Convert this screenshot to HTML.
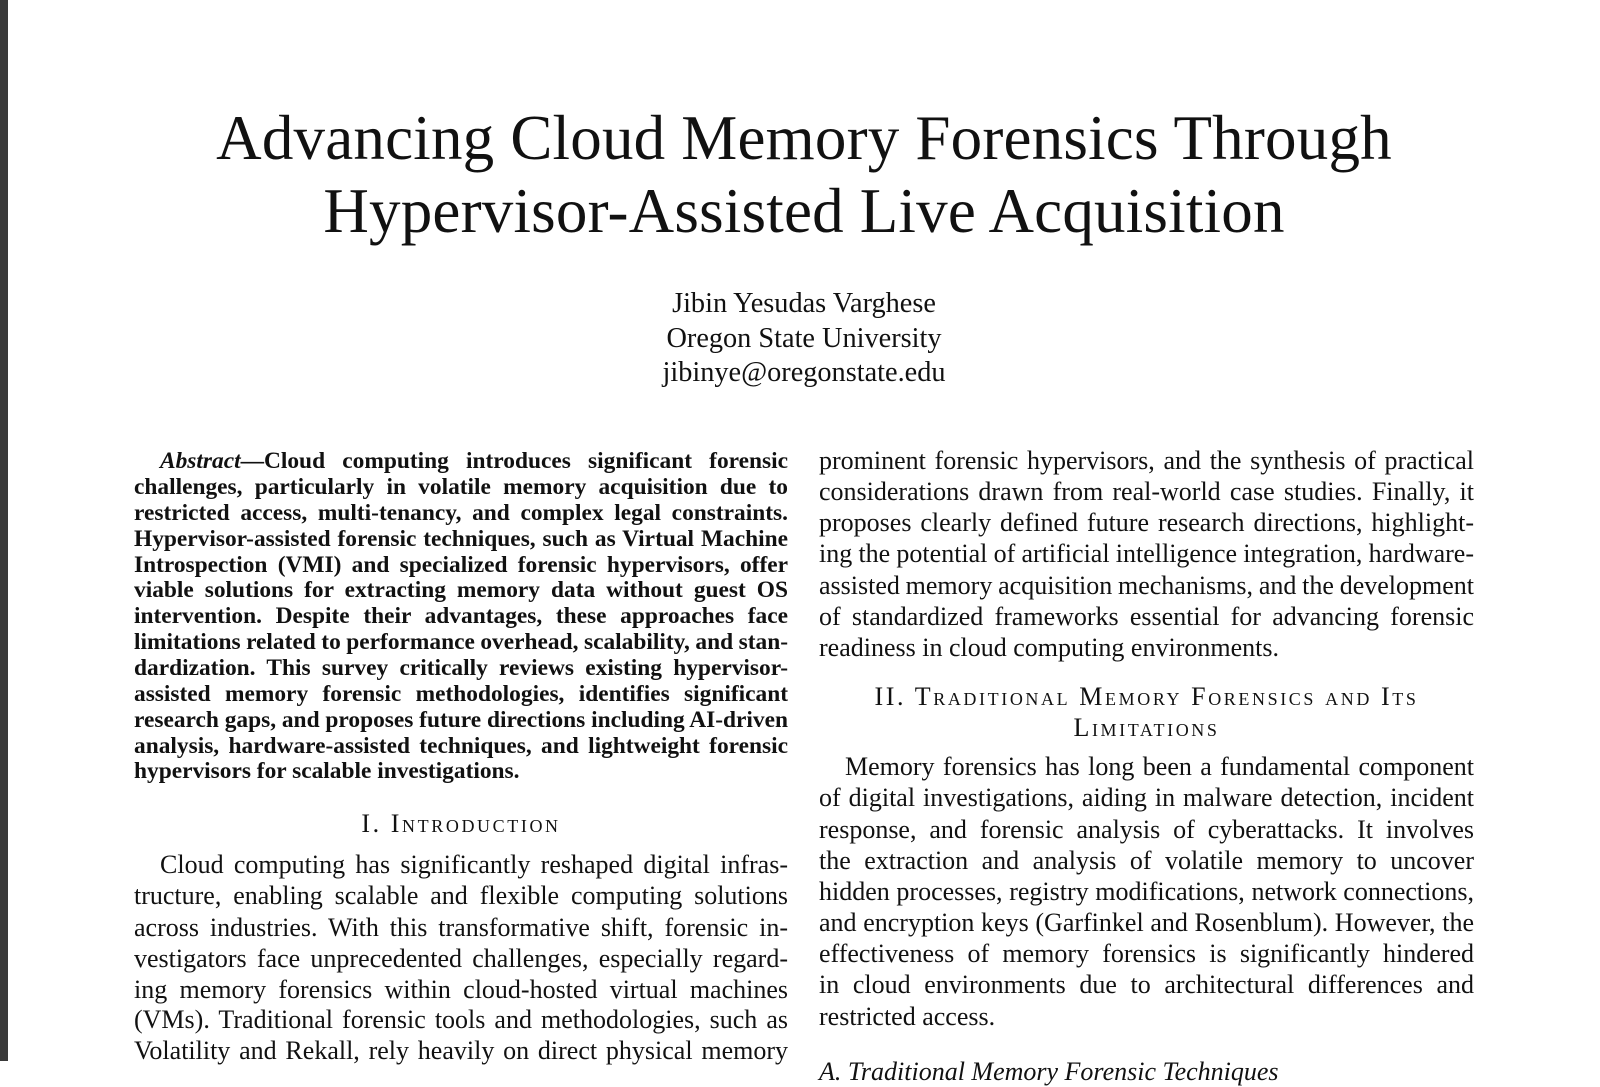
<!DOCTYPE html>
<html><head><meta charset="utf-8"><style>
html,body{margin:0;padding:0}
body{width:1600px;height:1061px;background:#fff;position:relative;overflow:hidden;font-family:"Liberation Serif","Times New Roman",serif;color:#111}
.bar{position:absolute;left:0;top:0;width:8px;height:1061px;background:#3a3a3a}
.c{position:absolute;left:0;width:1600px;text-align:center;white-space:nowrap}
.t{font-size:63px;line-height:70px;left:4px;letter-spacing:0.2px}
.a{font-size:28.3px;line-height:34px;left:4px}
.l{position:absolute;text-align:justify;text-align-last:justify;word-spacing:-4px;height:31px;line-height:31px;font-size:26px}
.L{left:134px;width:654px}
.R{left:819px;width:655px}
.ab{font-size:23.4px;font-weight:bold;height:26px;line-height:26px}
.end{text-align-last:left;word-spacing:0}
.h{position:absolute;font-size:26px;line-height:31px;text-align:center;font-variant:small-caps;white-space:nowrap;letter-spacing:2.6px}
</style></head><body>
<div class="bar"></div>
<div class="c t" style="top:103px">Advancing Cloud Memory Forensics Through</div>
<div class="c t" style="top:176px">Hypervisor-Assisted Live Acquisition</div>
<div class="c a" style="top:287px">Jibin Yesudas Varghese</div>
<div class="c a" style="top:322px">Oregon State University</div>
<div class="c a" style="top:356px">jibinye@oregonstate.edu</div>

<div class="l L ab" style="top:448px;left:160px;width:628px"><i>Abstract</i>—Cloud computing introduces significant forensic</div>
<div class="l L ab" style="top:474px">challenges, particularly in volatile memory acquisition due to</div>
<div class="l L ab" style="top:500px">restricted access, multi-tenancy, and complex legal constraints.</div>
<div class="l L ab" style="top:526px">Hypervisor-assisted forensic techniques, such as Virtual Machine</div>
<div class="l L ab" style="top:552px">Introspection (VMI) and specialized forensic hypervisors, offer</div>
<div class="l L ab" style="top:577px">viable solutions for extracting memory data without guest OS</div>
<div class="l L ab" style="top:603px">intervention. Despite their advantages, these approaches face</div>
<div class="l L ab" style="top:629px">limitations related to performance overhead, scalability, and stan-</div>
<div class="l L ab" style="top:655px">dardization. This survey critically reviews existing hypervisor-</div>
<div class="l L ab" style="top:681px">assisted memory forensic methodologies, identifies significant</div>
<div class="l L ab" style="top:707px">research gaps, and proposes future directions including AI-driven</div>
<div class="l L ab" style="top:733px">analysis, hardware-assisted techniques, and lightweight forensic</div>
<div class="l L ab end" style="top:758px">hypervisors for scalable investigations.</div>

<div class="h" style="left:134px;width:654px;top:808px">I. Introduction</div>
<div class="l L" style="top:849px;left:160px;width:628px">Cloud computing has significantly reshaped digital infras-</div>
<div class="l L" style="top:880px">tructure, enabling scalable and flexible computing solutions</div>
<div class="l L" style="top:912px">across industries. With this transformative shift, forensic in-</div>
<div class="l L" style="top:943px">vestigators face unprecedented challenges, especially regard-</div>
<div class="l L" style="top:974px">ing memory forensics within cloud-hosted virtual machines</div>
<div class="l L" style="top:1004px">(VMs). Traditional forensic tools and methodologies, such as</div>
<div class="l L" style="top:1035px">Volatility and Rekall, rely heavily on direct physical memory</div>

<div class="l R" style="top:445px">prominent forensic hypervisors, and the synthesis of practical</div>
<div class="l R" style="top:476px">considerations drawn from real-world case studies. Finally, it</div>
<div class="l R" style="top:507px">proposes clearly defined future research directions, highlight-</div>
<div class="l R" style="top:538px">ing the potential of artificial intelligence integration, hardware-</div>
<div class="l R" style="top:570px">assisted memory acquisition mechanisms, and the development</div>
<div class="l R" style="top:601px">of standardized frameworks essential for advancing forensic</div>
<div class="l R end" style="top:632px">readiness in cloud computing environments.</div>

<div class="h" style="left:819px;width:655px;top:681px">II. Traditional Memory Forensics and Its</div>
<div class="h" style="left:819px;width:655px;top:712px">Limitations</div>
<div class="l R" style="top:751px;left:845px;width:629px">Memory forensics has long been a fundamental component</div>
<div class="l R" style="top:782px">of digital investigations, aiding in malware detection, incident</div>
<div class="l R" style="top:814px">response, and forensic analysis of cyberattacks. It involves</div>
<div class="l R" style="top:845px">the extraction and analysis of volatile memory to uncover</div>
<div class="l R" style="top:876px">hidden processes, registry modifications, network connections,</div>
<div class="l R" style="top:907px">and encryption keys (Garfinkel and Rosenblum). However, the</div>
<div class="l R" style="top:938px">effectiveness of memory forensics is significantly hindered</div>
<div class="l R" style="top:969px">in cloud environments due to architectural differences and</div>
<div class="l R end" style="top:1001px">restricted access.</div>
<div class="l R end" style="top:1056px;font-style:italic">A. Traditional Memory Forensic Techniques</div>
</body></html>
